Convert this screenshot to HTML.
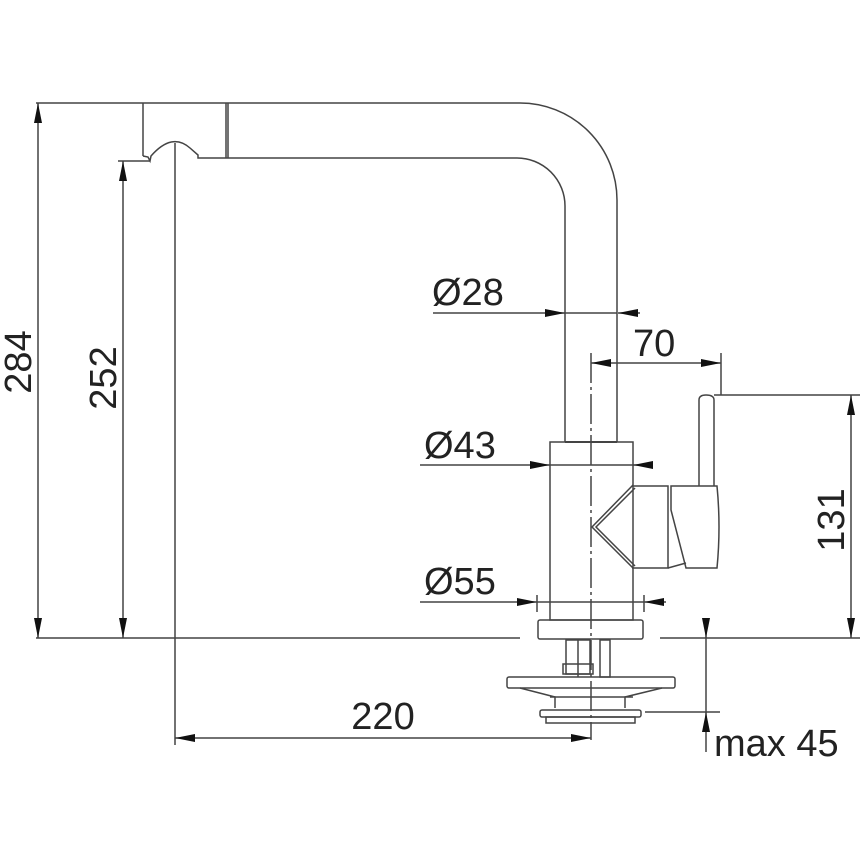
<!DOCTYPE html>
<html><head><style>html,body{margin:0;padding:0;background:#fff}svg{display:block}text{font-family:"Liberation Sans",sans-serif;font-size:38px;fill:#222}</style></head><body>
<svg width="860" height="860" viewBox="0 0 860 860" xmlns="http://www.w3.org/2000/svg">
<defs>
<marker id="b" viewBox="0 0 20 8" refX="20" refY="4" markerWidth="20" markerHeight="8" markerUnits="userSpaceOnUse" orient="auto-start-reverse"><path d="M0,0L20,4L0,8z" fill="#111"/></marker>
</defs>
<g stroke="#444" stroke-width="1.5" fill="none">
<line x1="36" y1="103" x2="143" y2="103"/>
<line x1="36" y1="638" x2="520" y2="638"/>
<line x1="660" y1="638" x2="860" y2="638"/>
<line x1="118" y1="161" x2="150" y2="161"/>
<line x1="714" y1="395" x2="860" y2="395"/>
<line x1="645" y1="712" x2="720" y2="712"/>
<path d="M143 103 H520 A97 97 0 0 1 617 200 V442"/>
<path d="M228 158 H517 A48 48 0 0 1 565 206 V442"/>
<line x1="143" y1="103" x2="143" y2="156"/>
<line x1="226" y1="103" x2="226" y2="158"/>
<line x1="228" y1="103" x2="228" y2="158"/>
<path d="M143 156 L148 157 L150 161 L151 156 Q172 132 190 148 L198 155 L198 158 H228"/>
<rect x="550" y="442" width="83" height="178"/>
<rect x="538" y="620" width="105" height="19" rx="2"/>
<line x1="565" y1="442" x2="617" y2="442" stroke-width="2"/>
<path d="M633 485 L592 527 L633 568"/>
<path d="M635 488 L596 527 L635 566"/>
<path d="M632 486 H668 V568 H632"/>
<path d="M671 486 H717 Q721 527 717 568 H686 L671 510 Z"/>
<path d="M668 568 L686 563"/>
<path d="M699 486 V400 Q699 395 706 395 Q714 395 714 400 V486"/>
<rect x="566" y="640" width="24" height="34"/>
<line x1="578" y1="640" x2="578" y2="677"/>
<rect x="563" y="664" width="30" height="10"/>
<rect x="600" y="640" width="10" height="37"/>
<rect x="507" y="677" width="168" height="11" rx="2"/>
<path d="M520 688 L555 697 V708"/>
<path d="M662 688 L625 697 V708"/>
<path d="M550 697 H633"/>
<rect x="540" y="710" width="101" height="7" rx="2"/>
<rect x="546" y="717" width="89" height="6"/>
<line x1="38" y1="103" x2="38" y2="638" marker-start="url(#b)" marker-end="url(#b)"/>
<line x1="123" y1="161" x2="123" y2="638" marker-start="url(#b)" marker-end="url(#b)"/>
<line x1="175" y1="143" x2="175" y2="745"/>
<line x1="175" y1="738" x2="591" y2="738" marker-start="url(#b)" marker-end="url(#b)"/>
<line x1="851" y1="395" x2="851" y2="638" marker-start="url(#b)" marker-end="url(#b)"/>
<line x1="706" y1="618" x2="706" y2="638" marker-end="url(#b)"/>
<line x1="706" y1="638" x2="706" y2="712"/>
<line x1="706" y1="752" x2="706" y2="712" marker-end="url(#b)"/>
<line x1="433" y1="313" x2="565" y2="313" marker-end="url(#b)"/>
<line x1="565" y1="313" x2="617" y2="313"/>
<line x1="640" y1="313" x2="618" y2="313" marker-end="url(#b)"/>
<line x1="591" y1="363" x2="721" y2="363" marker-start="url(#b)" marker-end="url(#b)"/>
<line x1="721" y1="353" x2="721" y2="395"/>
<line x1="591" y1="353" x2="591" y2="740" stroke-dasharray="30,4,3,4"/>
<line x1="420" y1="465" x2="550" y2="465" marker-end="url(#b)"/>
<line x1="550" y1="465" x2="633" y2="465"/>
<line x1="653" y1="465" x2="633" y2="465" marker-end="url(#b)"/>
<line x1="420" y1="602" x2="537" y2="602" marker-end="url(#b)"/>
<line x1="537" y1="602" x2="644" y2="602"/>
<line x1="666" y1="602" x2="644" y2="602" marker-end="url(#b)"/>
<line x1="537" y1="595" x2="537" y2="612"/>
<line x1="644" y1="595" x2="644" y2="612"/>
</g>
<text transform="translate(31,362) rotate(-90)" text-anchor="middle">284</text>
<text transform="translate(116,378) rotate(-90)" text-anchor="middle">252</text>
<text transform="translate(844,520) rotate(-90)" text-anchor="middle">131</text>
<text x="383" y="729" text-anchor="middle">220</text>
<text x="432" y="305">Ø28</text>
<text x="633" y="356">70</text>
<text x="424" y="458">Ø43</text>
<text x="424" y="594">Ø55</text>
<text x="714" y="756">max 45</text>
</svg>
</body></html>
